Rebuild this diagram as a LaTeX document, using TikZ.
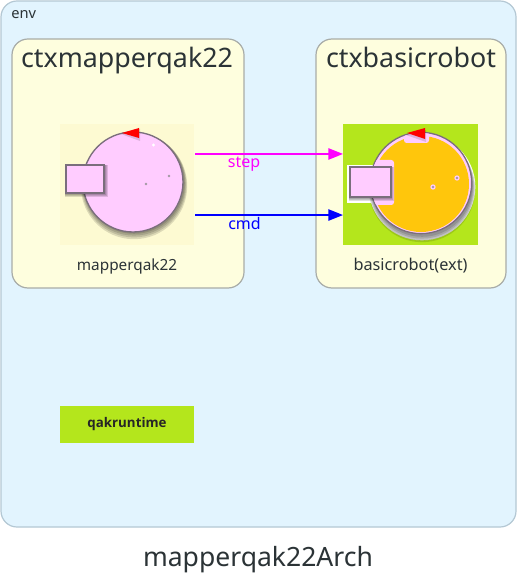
\documentclass[tikz,border=0pt]{standalone}
\usepackage{fontspec}
\setmainfont{Noto Sans}
\newfontfamily\heavyfont{Open Sans}
\usetikzlibrary{arrows.meta}
\definecolor{envfill}{HTML}{E2F4FE}
\definecolor{envline}{HTML}{B4C8D4}
\definecolor{ctxfill}{HTML}{FEFEDE}
\definecolor{ctxline}{HTML}{A8ACA8}
\definecolor{imgpale}{HTML}{FDFAD2}
\definecolor{lime}{HTML}{B4E61C}
\definecolor{pinkbody}{HTML}{FFCCFF}
\definecolor{orangebody}{HTML}{FFC60C}
\definecolor{edgegray}{HTML}{7A6E7C}
\definecolor{txt}{HTML}{2B3336}
\definecolor{stepcol}{HTML}{FF00FF}
\definecolor{cmdcol}{HTML}{0000FF}
\tikzset{
  px/.style={x=0.75pt,y=-0.75pt},
  group/.style={draw=#1,rounded corners=12pt,line width=0.9pt,inner sep=0pt},
  title/.style={font=\fontsize{20.1pt}{21pt}\selectfont,text=txt,inner sep=0pt},
  label/.style={font=\fontsize{11.5pt}{13pt}\selectfont,text=txt,inner sep=0pt},
  actor/.style={inner sep=0pt,outer sep=0pt,fill=#1},
  body/.style={draw=edgegray,line width=1pt},
  shade/.style={fill=black,opacity=0.13},
  flow/.style={line width=1.1pt,-{Triangle[length=11pt,width=8.5pt]}},
  msg/.style={font=\fontsize{12pt}{14pt}\selectfont,inner sep=0pt},
  dot/.style={fill=edgegray!70,draw=none}
}
\begin{document}
\begin{tikzpicture}[px]
\useasboundingbox (0,0) rectangle (518,573);
\fill[white] (0,0) rectangle (518,573);
% environment
\draw[group=envline,fill=envfill] (1,1) rectangle (516,527);
\node[label,font=\fontsize{11pt}{13pt}\selectfont,anchor=base west] (envlabel) at (11,18.5) {env};
% contexts
\draw[group=ctxline,fill=ctxfill] (12,39) rectangle (244,288);
\draw[group=ctxline,fill=ctxfill] (316,39) rectangle (506,288);
\node[title,anchor=base] (ctxa) at (127,68) {ctxmapperqak22};
\node[title,anchor=base] (ctxb) at (411,68) {ctxbasicrobot};
% mapper actor
\node[actor=imgpale,minimum width=100.5pt,minimum height=90.75pt] (mapper) at (127,184.5) {};
\foreach \d in {4,3,2,1}{\fill[shade] (134,182+\d) circle[radius=37.5pt+\d*0.6pt];}
\draw[body,fill=pinkbody] (133,182) circle[radius=37.5pt];
\fill[white] (153.5,145) circle[radius=1.2pt];
\fill[shade] (121,134) -- (140,129) -- (140,141) -- cycle;
\fill[red] (122,133) -- (139,128) -- (139,138) -- cycle;
\fill[dot] (146,184) circle[radius=1pt];
\fill[dot] (169,176) circle[radius=1pt];
\foreach \d in {3,2,1}{\fill[shade] (65,165) rectangle (105+\d,194+\d);}
\draw[body,fill=pinkbody,line width=1.2pt] (66,165) rectangle (104,193);
\node[label,anchor=base] (mapperlabel) at (127,270) {mapperqak22};
% robot actor
\node[actor=lime,minimum width=101.25pt,minimum height=90.75pt] (robot) at (410.5,184.5) {};
\fill[white] (422,187) circle[radius=40pt];
\fill[white] (347,165) rectangle (395,203);
\foreach \d in {4,3,2,1}{\fill[shade] (422,185+\d) circle[radius=37.5pt+\d*0.6pt];}
\draw[body,fill=pinkbody] (421,183) circle[radius=38pt];
\fill[orangebody] (421,184) circle[radius=36pt];
\begin{scope}
\clip (421,183) circle[radius=37.5pt];
\fill[pinkbody,rounded corners=2pt] (404,126) rectangle (429,143);
\fill[pinkbody,rounded corners=2pt] (345,160) rectangle (394,205);
\end{scope}
\fill[shade] (406,135) -- (426,130) -- (426,142) -- cycle;
\fill[red] (407,133) -- (425,128) -- (425,139) -- cycle;
\fill[pinkbody] (433,187) circle[radius=2pt];
\fill[pinkbody] (457,178) circle[radius=2pt];
\fill[dot] (433,187) circle[radius=1pt];
\fill[dot] (457,178) circle[radius=1pt];
\foreach \d in {3,2,1}{\fill[shade] (349,167) rectangle (391+\d,198+\d);}
\draw[body,fill=pinkbody,line width=1.2pt] (350,167) rectangle (391,197);
\node[label,font=\fontsize{12.2pt}{14pt}\selectfont,anchor=base] (robotlabel) at (410.5,270) {basicrobot(ext)};
% runtime
\node[actor=lime,minimum width=100.5pt,minimum height=27.75pt,font=\heavyfont\bfseries\fontsize{10pt}{12pt}\selectfont,text=black!85] (runtime) at (127,424.5) {\raisebox{2.2pt}{qakruntime}};
% connectors
\coordinate (stepfrom) at ([xshift=1pt,yshift=22.9pt]mapper.east);
\coordinate (stepto) at ([yshift=22.9pt]robot.west);
\coordinate (cmdfrom) at ([xshift=1pt,yshift=-22.9pt]mapper.east);
\coordinate (cmdto) at ([yshift=-22.9pt]robot.west);
\draw[flow,stepcol] (stepfrom) -- (stepto);
\draw[flow,cmdcol] (cmdfrom) -- (cmdto);
\node[msg,text=stepcol,anchor=base] (steplabel) at (244,168) {step};
\node[msg,text=cmdcol,anchor=base] (cmdlabel) at (244.5,229) {cmd};
% caption
\node[anchor=base,font=\fontsize{19.9pt}{21pt}\selectfont,text=txt,inner sep=0pt] (caption) at (258,566) {mapperqak22Arch};
\end{tikzpicture}
\end{document}
